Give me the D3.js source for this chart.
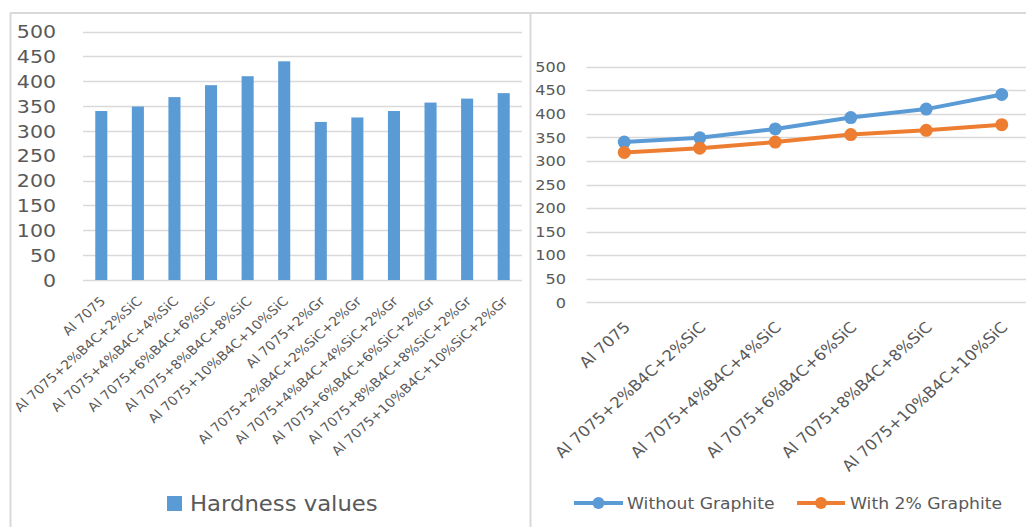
<!DOCTYPE html>
<html>
<head>
<meta charset="utf-8">
<script src="https://cdn.jsdelivr.net/npm/d3@7"></script>
<style>
  html, body { margin: 0; padding: 0; background: #ffffff; }
  svg { display: block; }
  text { font-family: "DejaVu Sans", Verdana, sans-serif; fill: #595959; }
</style>
</head>
<body>
<svg id="chart" width="1026" height="527"></svg>
<script>
// Hardness of Al 7075 composites
const barCategories = [
  "Al 7075",
  "Al 7075+2%B4C+2%SiC",
  "Al 7075+4%B4C+4%SiC",
  "Al 7075+6%B4C+6%SiC",
  "Al 7075+8%B4C+8%SiC",
  "Al 7075+10%B4C+10%SiC",
  "Al 7075+2%Gr",
  "Al 7075+2%B4C+2%SiC+2%Gr",
  "Al 7075+4%B4C+4%SiC+2%Gr",
  "Al 7075+6%B4C+6%SiC+2%Gr",
  "Al 7075+8%B4C+8%SiC+2%Gr",
  "Al 7075+10%B4C+10%SiC+2%Gr"
];
const hardnessValues = [340, 349, 368, 392, 410, 440, 318, 327, 340, 357, 365, 376];

const lineCategories = [
  "Al 7075",
  "Al 7075+2%B4C+2%SiC",
  "Al 7075+4%B4C+4%SiC",
  "Al 7075+6%B4C+6%SiC",
  "Al 7075+8%B4C+8%SiC",
  "Al 7075+10%B4C+10%SiC"
];
const withoutGraphite = [340, 349, 368, 392, 410, 441];
const withGraphite = [318, 327, 340, 356, 365, 377];

const yTicks = [0, 50, 100, 150, 200, 250, 300, 350, 400, 450, 500];

const BLUE = "#5b9bd5";
const ORANGE = "#ed7d31";
const GRID = "#d9d9d9";
const STRETCH = 1.11; // text is drawn slightly wide

const svg = d3.select("#chart");

// panel frames
const frame = svg.append("g").attr("fill", "none").attr("stroke", GRID).attr("stroke-width", 2);
frame.append("line").attr("x1", 10).attr("x2", 1026).attr("y1", 13).attr("y2", 13);
frame.append("line").attr("x1", 10.5).attr("x2", 10.5).attr("y1", 13).attr("y2", 527);
frame.append("line").attr("x1", 530.5).attr("x2", 530.5).attr("y1", 13).attr("y2", 527);

const wide = (x, y, rot) => `translate(${x},${y}) scale(${STRETCH},1)` + (rot ? ` rotate(${rot})` : "");

// ---------- left: bar chart ----------
const bx = d3.scaleBand().domain(barCategories).range([83, 522])
  .paddingInner(0.67).paddingOuter(0.335);
const by = d3.scaleLinear().domain([0, 500]).range([280, 31.5]);

const left = svg.append("g");
left.append("g").selectAll("line").data(yTicks).join("line")
  .attr("x1", 83).attr("x2", 522)
  .attr("y1", d => Math.round(by(d)) + 0.5).attr("y2", d => Math.round(by(d)) + 0.5)
  .attr("stroke", GRID).attr("stroke-width", 1.3);

left.append("g").selectAll("text").data(yTicks).join("text")
  .attr("transform", d => wide(56, by(d)))
  .attr("dy", "0.36em")
  .attr("text-anchor", "end").style("font-size", "18.5px")
  .text(d => d);

left.append("g").selectAll("rect").data(hardnessValues).join("rect")
  .attr("x", (d, i) => bx(barCategories[i]))
  .attr("width", bx.bandwidth())
  .attr("y", d => by(d))
  .attr("height", d => by(0) - by(d))
  .attr("fill", BLUE);

left.append("g").selectAll("text").data(barCategories).join("text")
  .attr("text-anchor", "end").style("font-size", "12.7px")
  .attr("transform", d => wide(bx(d) + bx.bandwidth() / 2 + 5, by(0) + 22, -45))
  .text(d => d);

// legend
left.append("rect").attr("x", 167).attr("y", 496).attr("width", 15).attr("height", 15).attr("fill", BLUE);
left.append("text").attr("transform", wide(190, 511)).style("font-size", "20.5px").text("Hardness values");

// ---------- right: line chart ----------
const lx = d3.scaleBand().domain(lineCategories).range([586.5, 1039.5]);
const ly = d3.scaleLinear().domain([0, 500]).range([302.3, 66.7]);
const cx = d => lx(d) + lx.bandwidth() / 2;

const right = svg.append("g");
right.append("g").selectAll("line").data(yTicks).join("line")
  .attr("x1", 586.5).attr("x2", 1039.5)
  .attr("y1", d => Math.round(ly(d)) + 0.5).attr("y2", d => Math.round(ly(d)) + 0.5)
  .attr("stroke", GRID).attr("stroke-width", 1.3);

right.append("g").selectAll("text").data(yTicks).join("text")
  .attr("transform", d => wide(566, ly(d)))
  .attr("dy", "0.36em")
  .attr("text-anchor", "end").style("font-size", "14.5px")
  .text(d => d);

right.append("g").selectAll("text").data(lineCategories).join("text")
  .attr("text-anchor", "end").style("font-size", "15px")
  .attr("transform", d => wide(cx(d) + 7, ly(0) + 26, -45))
  .text(d => d);

const series = [
  { name: "Without Graphite", values: withoutGraphite, color: BLUE },
  { name: "With 2% Graphite", values: withGraphite, color: ORANGE }
];
const line = d3.line().x((d, i) => cx(lineCategories[i])).y(d => ly(d));

series.forEach(s => {
  const g = right.append("g");
  g.append("path").attr("d", line(s.values)).attr("fill", "none")
    .attr("stroke", s.color).attr("stroke-width", 4).attr("stroke-linejoin", "round");
  g.selectAll("circle").data(s.values).join("circle")
    .attr("cx", (d, i) => cx(lineCategories[i])).attr("cy", d => ly(d))
    .attr("r", 6.5).attr("fill", s.color);
});

// legend
const legendPos = [{ x1: 574, x2: 623, tx: 627 }, { x1: 797, x2: 845, tx: 850 }];
series.forEach((s, i) => {
  const p = legendPos[i];
  const g = right.append("g");
  g.append("line").attr("x1", p.x1).attr("x2", p.x2).attr("y1", 503).attr("y2", 503)
    .attr("stroke", s.color).attr("stroke-width", 4);
  g.append("circle").attr("cx", (p.x1 + p.x2) / 2).attr("cy", 503).attr("r", 6).attr("fill", s.color);
  g.append("text").attr("transform", wide(p.tx, 509)).style("font-size", "15.5px").text(s.name);
});
</script>
</body>
</html>
